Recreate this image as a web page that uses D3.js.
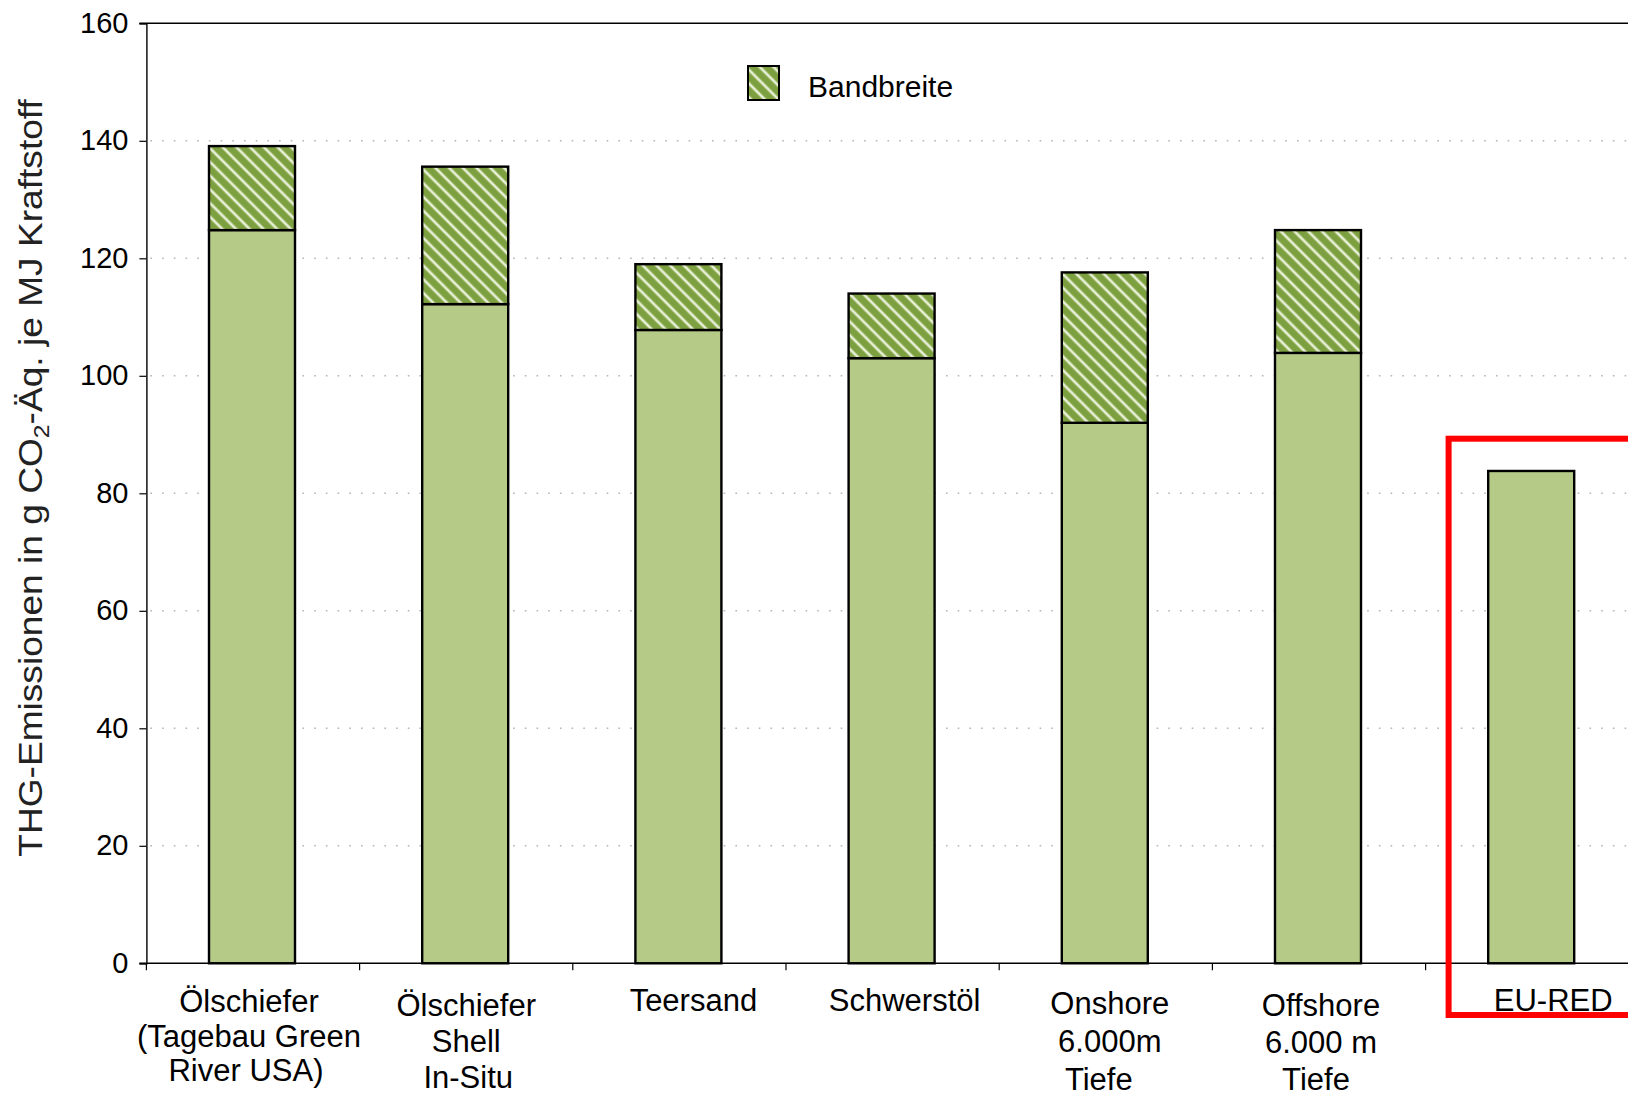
<!DOCTYPE html>
<html>
<head>
<meta charset="utf-8">
<script src="https://cdn.jsdelivr.net/npm/d3@7"></script>
<style>
  html, body { margin: 0; padding: 0; background: #fff; }
  svg { display: block; font-family: "Liberation Sans", Arial, sans-serif; }
</style>
</head>
<body>
<svg id="chart" width="1628" height="1096"></svg>
<script>
// Categories (multi-line labels)
const categories = [
  ["Ölschiefer", "(Tagebau Green", "River USA)"],
  ["Ölschiefer", "Shell", "In-Situ"],
  ["Teersand"],
  ["Schwerstöl"],
  ["Onshore", "6.000m", "Tiefe"],
  ["Offshore", "6.000 m", "Tiefe"],
  ["EU-RED"]
];
const categoryKeys = ["oil_shale_gr", "oil_shale_shell", "tar_sand", "heavy_oil", "onshore", "offshore", "eu_red"];
// Lower bound of each range (solid part)
const baseValues = [124.8, 112.2, 107.8, 103.0, 92.0, 103.9, 83.8];
// Upper bound of the range (hatched "Bandbreite" reaches up to here)
const upperValues = [139.1, 135.6, 119.0, 114.0, 117.6, 124.8, null];
const yTicks = [0, 20, 40, 60, 80, 100, 120, 140, 160];
const legendLabel = "Bandbreite";

// Label block layout: horizontal nudge, first baseline, line step, per-line nudge (px)
const labelShift = [-4, 0, 14, 12, 4, 2, 21];
const labelTop = [1012, 1016, 1011, 1011, 1014, 1016, 1011];
const labelStep = [34.5, 36, 36, 36, 38, 37, 36];
const lineNudge = [[0, 0, -3], [0, 0, 2], [0], [0], [0, 0, -11], [0, 0, -5], [0]];

const svg = d3.select("#chart");
const plotLeft = 146.4, plotTop = 23.3, plotBottom = 963.3, bandStep = 213.2;

const y = d3.scaleLinear().domain([0, 160]).range([plotBottom, plotTop]);
const x = d3.scaleBand()
  .domain(categoryKeys)
  .range([plotLeft, plotLeft + bandStep * categoryKeys.length])
  .paddingInner(0).paddingOuter(0);
const barW = 86;

const colLight = "#b6ca87";
const colDark = "#7c9f3f";

// Hatch pattern: dark green with thin light diagonal stripes
const defs = svg.append("defs");
const pat = defs.append("pattern")
  .attr("id", "hatch")
  .attr("patternUnits", "userSpaceOnUse")
  .attr("width", 9.7).attr("height", 9.7)
  .attr("patternTransform", "rotate(-45)");
pat.append("rect").attr("width", 9.7).attr("height", 9.7).attr("fill", colDark);
pat.append("rect").attr("x", 3.4).attr("width", 3.0).attr("height", 9.7).attr("fill", "#c9dca4");
pat.append("rect").attr("x", 4.2).attr("width", 1.4).attr("height", 9.7).attr("fill", "#f4f8ec");

// Dotted gridlines
svg.append("g").selectAll("line")
  .data(yTicks.filter(d => d > 0 && d < 160))
  .join("line")
  .attr("x1", plotLeft + 4).attr("x2", 1628)
  .attr("y1", d => y(d)).attr("y2", d => y(d))
  .attr("stroke", "#b4b4b4").attr("stroke-width", 1.6)
  .attr("stroke-dasharray", "1.6,10.1");

// Top border of plot area
svg.append("line")
  .attr("x1", plotLeft - 7).attr("x2", 1628)
  .attr("y1", plotTop).attr("y2", plotTop)
  .attr("stroke", "#000").attr("stroke-width", 1.4);

// Bars: solid lower part
const bars = svg.append("g");
bars.selectAll("rect.base")
  .data(categoryKeys)
  .join("rect")
  .attr("class", "base")
  .attr("x", (d) => x(d) + x.bandwidth() / 2 - 1 - barW / 2)
  .attr("width", barW)
  .attr("y", (d, i) => y(baseValues[i]))
  .attr("height", (d, i) => y(0) - y(baseValues[i]))
  .attr("fill", colLight)
  .attr("stroke", "#000").attr("stroke-width", 2.4);

// Bars: hatched range
bars.selectAll("rect.range")
  .data(categoryKeys.filter((d, i) => upperValues[i] != null))
  .join("rect")
  .attr("class", "range")
  .attr("x", (d) => x(d) + x.bandwidth() / 2 - 1 - barW / 2)
  .attr("width", barW)
  .attr("y", d => y(upperValues[categoryKeys.indexOf(d)]))
  .attr("height", d => {
    const i = categoryKeys.indexOf(d);
    return y(baseValues[i]) - y(upperValues[i]);
  })
  .attr("fill", "url(#hatch)")
  .attr("stroke", "#000").attr("stroke-width", 2.4);

// Y axis
const yAxis = svg.append("g")
  .attr("transform", `translate(${plotLeft},0)`)
  .call(d3.axisLeft(y).tickValues(yTicks).tickSize(7).tickPadding(11));
yAxis.select(".domain").attr("stroke", "#000").attr("stroke-width", 1.4);
yAxis.selectAll(".tick line").attr("stroke", "#000").attr("stroke-width", 1.2);
yAxis.selectAll(".tick text")
  .attr("font-size", 29).attr("fill", "#000")
  .attr("font-family", "'Liberation Sans', Arial, sans-serif")
  .attr("dy", "0.3em");

// X axis line and category boundary ticks
svg.append("line")
  .attr("x1", plotLeft - 7).attr("x2", 1628)
  .attr("y1", plotBottom).attr("y2", plotBottom)
  .attr("stroke", "#000").attr("stroke-width", 1.4);
svg.append("g").selectAll("line")
  .data(categoryKeys)
  .join("line")
  .attr("x1", d => x(d)).attr("x2", d => x(d))
  .attr("y1", plotBottom).attr("y2", plotBottom + 7)
  .attr("stroke", "#000").attr("stroke-width", 1.2);

// Category labels
const lab = svg.append("g").attr("font-size", 31).attr("fill", "#000").attr("text-anchor", "middle");
categories.forEach((lines, i) => {
  const cx = x(categoryKeys[i]) + x.bandwidth() / 2 + labelShift[i];
  const t = lab.append("text").attr("x", cx).attr("y", labelTop[i]);
  lines.forEach((ln, j) => {
    t.append("tspan")
      .attr("x", cx + lineNudge[i][j])
      .attr("y", labelTop[i] + j * labelStep[i])
      .text(ln);
  });
});

// Y axis title (slightly widened lettering)
const title = svg.append("text")
  .attr("transform", "translate(42,478) rotate(-90) scale(1.125,1)")
  .attr("text-anchor", "middle")
  .attr("font-size", 33).attr("fill", "#222");
title.append("tspan").text("THG-Emissionen in g CO");
title.append("tspan").attr("font-size", 22).attr("dy", 7).text("2");
title.append("tspan").attr("dy", -7).text("-Äq. je MJ Kraftstoff");

// Legend
const lg = svg.append("g");
lg.append("rect")
  .attr("x", 748).attr("y", 66).attr("width", 31).attr("height", 34)
  .attr("fill", "url(#hatch)").attr("stroke", "#000").attr("stroke-width", 2);
lg.append("text")
  .attr("x", 808).attr("y", 96.5)
  .attr("font-size", 30).attr("fill", "#000")
  .text(legendLabel);

// Highlight frame around the reference value
svg.append("rect")
  .attr("x", x("eu_red") + 23).attr("y", 438.7)
  .attr("width", 260).attr("height", 1015 - 438.7)
  .attr("fill", "none").attr("stroke", "#ff0000").attr("stroke-width", 6);
</script>
</body>
</html>
